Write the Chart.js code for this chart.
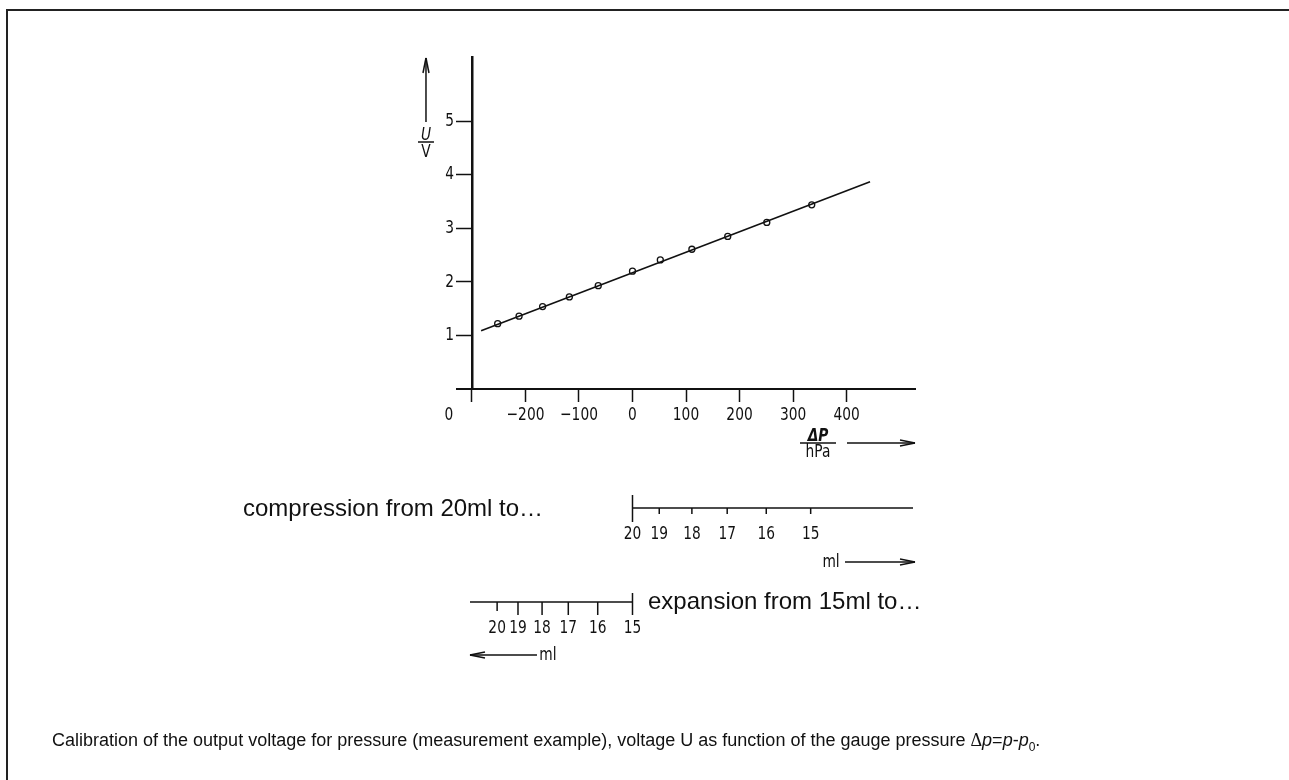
<!DOCTYPE html>
<html>
<head>
<meta charset="utf-8">
<script src="https://cdn.jsdelivr.net/npm/chart.js@4"></script>
<style>
  body { margin: 0; background: #fff; width: 1289px; height: 780px; overflow: hidden; position: relative;
         font-family: "Liberation Sans", Arial, sans-serif; color: #111; }
  #frame { position: absolute; left: 6px; top: 9px; right: -10px; bottom: -10px;
           border-top: 2px solid #222; border-left: 2px solid #222; }
  canvas { position: absolute; left: 0; top: 0; }
  .txt { position: absolute; font-size: 24px; line-height: 24px; white-space: nowrap; }
  #caption { position: absolute; left: 52px; top: 731px; font-size: 18px; line-height: 18px; white-space: nowrap; }
  #caption .sym { font-family: "Liberation Serif", "DejaVu Serif", serif; }
</style>
</head>
<body>
<div id="frame"></div>
<canvas id="myChart" width="1289" height="780"></canvas>
<div class="txt" style="left:243px; top:496px;">compression from 20ml to…</div>
<div class="txt" style="left:648px; top:589px;">expansion from 15ml to…</div>
<div id="caption">Calibration of the output voltage for pressure (measurement example), voltage U as function of the gauge pressure <span class="sym">Δ</span><i>p</i>=<i>p</i>-<i>p</i><sub style="font-size:12px">0</sub>.</div>
<script>
// measured points
const pressureHpa = [-252, -212, -168, -118, -64, 0, 52, 111, 178, 251, 335];
const voltageU = [1.22, 1.36, 1.54, 1.72, 1.93, 2.20, 2.41, 2.61, 2.85, 3.11, 3.44];

// fitted straight line
const fitHpa = [-283, 444];
const fitU = [1.09, 3.87];

const xTickValues = [-300, -200, -100, 0, 100, 200, 300, 400];
const xTickLabels = ["", "−200", "−100", "0", "100", "200", "300", "400"];
const yTickValues = [1, 2, 3, 4, 5];
const yTickLabels = ["1", "2", "3", "4", "5"];

// volume scales (ml) placed at the pressure they give
const compressionMl = [20, 19, 18, 17, 16, 15];
const compressionHpa = [0, 50, 111, 177, 250, 333];
const expansionMl = [20, 19, 18, 17, 16, 15];
const expansionHpa = [-253, -214, -169, -120, -65, 0];

const ink = "#111";
const narrow = '"DejaVu Sans Condensed", sans-serif';

function line(ctx, x1, y1, x2, y2) {
    ctx.beginPath();
    ctx.moveTo(x1, y1);
    ctx.lineTo(x2, y2);
    ctx.stroke();
}

function arrow(ctx, x1, y1, x2, y2) {
    const ang = Math.atan2(y2 - y1, x2 - x1);
    line(ctx, x1, y1, x2, y2);
    for (const s of [-1, 1]) {
        line(ctx, x2, y2,
            x2 - 15 * Math.cos(ang) + s * 3 * Math.sin(ang),
            y2 - 15 * Math.sin(ang) - s * 3 * Math.cos(ang));
    }
}

// narrow drafting-style lettering
function texto(ctx, t, x, y, estilo) {
    ctx.save();
    ctx.font = (estilo || "") + " 18px " + narrow;
    ctx.translate(x, y);
    ctx.scale(0.85, 1);
    ctx.fillText(t, 0, 0);
    ctx.restore();
}

const extras = {
    id: "extras",
    afterDraw(chart) {
        const { ctx, chartArea: a, scales: { x, y } } = chart;
        ctx.save();
        ctx.strokeStyle = ink;
        ctx.fillStyle = ink;
        ctx.lineWidth = 1.5;
        ctx.textAlign = "center";
        ctx.textBaseline = "middle";

        const ejeY = x.getPixelForValue(-300);

        // tick labels
        xTickValues.forEach((v, i) => texto(ctx, xTickLabels[i], x.getPixelForValue(v), a.bottom + 26));
        ctx.textAlign = "right";
        yTickValues.forEach((v, i) => texto(ctx, yTickLabels[i], ejeY - 18, y.getPixelForValue(v)));
        ctx.textAlign = "center";
        texto(ctx, "0", ejeY - 23, a.bottom + 26);

        // U / V with arrow
        const ax = ejeY - 46;
        arrow(ctx, ax, a.top + 65, ax, a.top + 1);
        texto(ctx, "U", ax, a.top + 78, "italic");
        line(ctx, ax - 8, a.top + 85, ax + 8, a.top + 85);
        texto(ctx, "V", ax, a.top + 95);

        // Δp / hPa with arrow
        const px = a.right - 97;
        texto(ctx, "ΔP", px, a.bottom + 47, "italic bold");
        line(ctx, px - 18, a.bottom + 54, px + 18, a.bottom + 54);
        texto(ctx, "hPa", px, a.bottom + 63);
        arrow(ctx, a.right - 68, a.bottom + 54, a.right, a.bottom + 54);

        // compression scale
        const yC = a.bottom + 119;
        line(ctx, x.getPixelForValue(compressionHpa[0]), yC, a.right - 2, yC);
        compressionHpa.forEach((v, i) => {
            const tx = x.getPixelForValue(v);
            if (i === 0) line(ctx, tx, yC - 13, tx, yC + 14);
            else line(ctx, tx, yC, tx, yC + 6);
            texto(ctx, String(compressionMl[i]), tx, yC + 26);
        });
        texto(ctx, "ml", a.right - 84, yC + 54);
        arrow(ctx, a.right - 70, yC + 54, a.right, yC + 54);

        // expansion scale
        const yE = a.bottom + 213;
        const fin = expansionHpa.length - 1;
        line(ctx, ejeY - 2, yE, x.getPixelForValue(expansionHpa[fin]), yE);
        expansionHpa.forEach((v, i) => {
            const tx = x.getPixelForValue(v);
            if (i === fin) line(ctx, tx, yE - 9, tx, yE + 13);
            else if (i === 0) line(ctx, tx, yE, tx, yE + 9);
            else line(ctx, tx, yE, tx, yE + 13);
            texto(ctx, String(expansionMl[i]), tx, yE + 26);
        });
        texto(ctx, "ml", ejeY + 76, yE + 53);
        arrow(ctx, ejeY + 65, yE + 53, ejeY - 2, yE + 53);

        ctx.restore();
    }
};

const puntos = pressureHpa.map((p, i) => ({ x: p, y: voltageU[i] }));
const recta = fitHpa.map((p, i) => ({ x: p, y: fitU[i] }));

const conf = {
    type: "scatter",
    data: {
        datasets: [
            {
                data: recta,
                showLine: true,
                borderColor: ink,
                borderWidth: 1.6,
                pointRadius: 0,
            },
            {
                data: puntos,
                showLine: false,
                borderColor: ink,
                backgroundColor: "#fff",
                borderWidth: 1.3,
                pointRadius: 3,
            }
        ]
    },
    options: {
        responsive: false,
        animation: false,
        devicePixelRatio: 1,
        layout: { padding: { left: 457, right: 374, top: 57, bottom: 391 } },
        plugins: { legend: { display: false }, tooltip: { enabled: false } },
        scales: {
            x: {
                type: "linear",
                min: -328,
                max: 528,
                position: { y: 0 },
                afterBuildTicks: s => { s.ticks = xTickValues.map(v => ({ value: v })); },
                ticks: { display: false, autoSkip: false },
                grid: { drawOnChartArea: false, drawTicks: true, tickLength: 12, tickWidth: 1.5, tickColor: ink },
                border: { display: true, color: ink, width: 2 }
            },
            y: {
                type: "linear",
                min: 0,
                max: 6.2,
                position: { x: -300 },
                afterBuildTicks: s => { s.ticks = yTickValues.map(v => ({ value: v })); },
                ticks: { display: false },
                grid: { drawOnChartArea: false, drawTicks: true, tickLength: 15, tickWidth: 1.5, tickColor: ink },
                border: { display: true, color: ink, width: 2.5 }
            }
        }
    },
    plugins: [extras]
};

new Chart(document.querySelector("#myChart"), conf);
</script>
</body>
</html>
